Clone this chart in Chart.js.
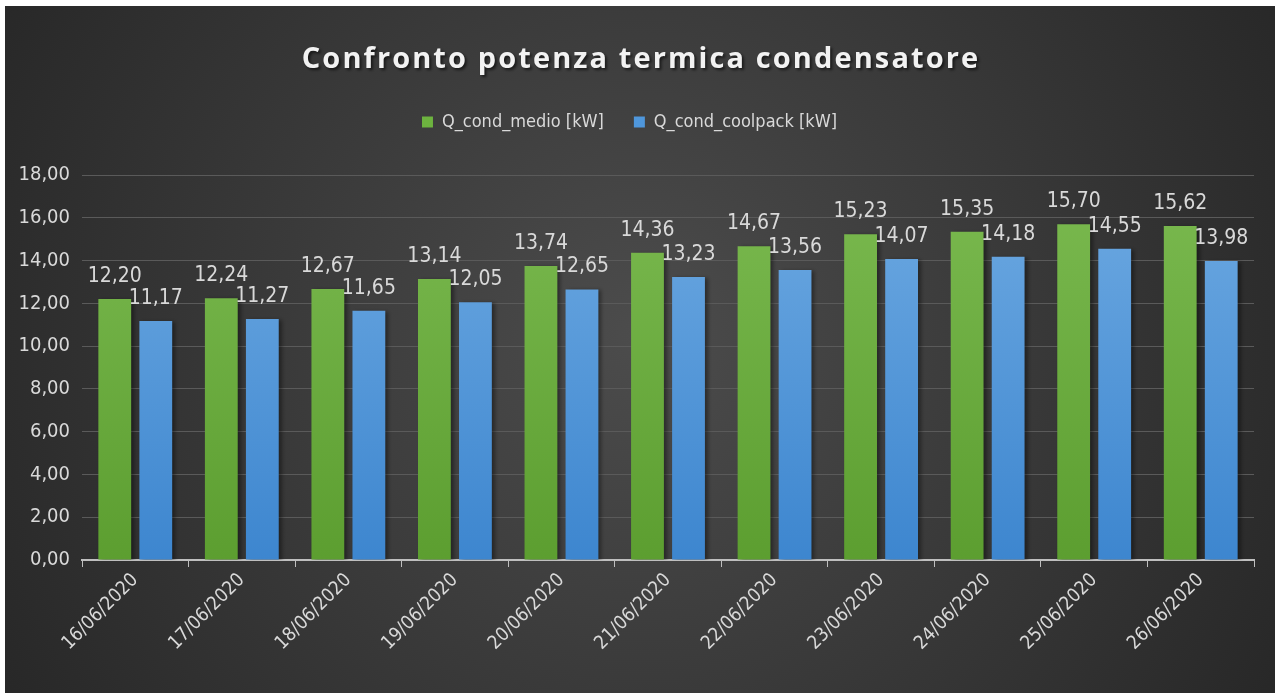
<!DOCTYPE html>
<html>
<head>
<meta charset="utf-8">
<script src="https://cdn.jsdelivr.net/npm/chart.js@4/dist/chart.umd.min.js"></script>
<style>
  html, body { margin: 0; padding: 0; background: #ffffff; }
  #wrap { position: absolute; left: 5px; top: 6px; width: 1270px; height: 687px; }
</style>
</head>
<body>
<div id="wrap"><canvas id="potenzaChart"></canvas></div>
<script>
const giorni = [
  '16/06/2020', '17/06/2020', '18/06/2020', '19/06/2020', '20/06/2020', '21/06/2020',
  '22/06/2020', '23/06/2020', '24/06/2020', '25/06/2020', '26/06/2020'
];
const qCondMedio = [12.20, 12.24, 12.67, 13.14, 13.74, 14.36, 14.67, 15.23, 15.35, 15.70, 15.62];
const qCondCoolpack = [11.17, 11.27, 11.65, 12.05, 12.65, 13.23, 13.56, 14.07, 14.18, 14.55, 13.98];
const yTicks = [0, 2, 4, 6, 8, 10, 12, 14, 16, 18];

const FONT = "'Liberation Sans Narrow', 'DejaVu Sans Condensed', sans-serif";
const TEXT_COLOR = '#d9d9d9';

const fmt = v => v.toFixed(2).replace('.', ',');

function barGradient(top, bottom) {
  return ctx => {
    const area = ctx.chart.chartArea;
    if (!area) return bottom;
    const g = ctx.chart.ctx.createLinearGradient(0, area.top, 0, area.bottom);
    g.addColorStop(0, top);
    g.addColorStop(1, bottom);
    return g;
  };
}

// dark radial background + title
const sfondo = {
  id: 'sfondo',
  beforeInit(chart) {
    // fixed legend block height so the plot starts lower
    const fit = chart.legend.fit;
    chart.legend.fit = function () {
      fit.call(this);
      this.height = 92;
    };
  },
  beforeDraw(chart) {
    const { ctx, width, height } = chart;
    ctx.save();
    const g = ctx.createRadialGradient(width * 0.5, height * 0.48, 0, width * 0.5, height * 0.48, width * 0.6);
    g.addColorStop(0, '#4c4c4c');
    g.addColorStop(1, '#262626');
    ctx.fillStyle = g;
    ctx.fillRect(0, 0, width, height);

    ctx.font = "bold 29px 'Open Sans', sans-serif";
    ctx.letterSpacing = '2.1px';
    ctx.fillStyle = '#f2f2f2';
    ctx.textAlign = 'center';
    ctx.textBaseline = 'middle';
    ctx.shadowColor = 'rgba(0,0,0,0.6)';
    ctx.shadowOffsetX = 2;
    ctx.shadowOffsetY = 2;
    ctx.shadowBlur = 3;
    ctx.fillText('Confronto potenza termica condensatore', width / 2 + 1, 54);
    ctx.restore();
  }
};

// bar shadow and value labels over every bar
const etichette = {
  id: 'etichette',
  beforeDatasetsDraw(chart) {
    const ctx = chart.ctx;
    ctx.save();
    ctx.shadowColor = 'rgba(0,0,0,0.4)';
    ctx.shadowOffsetX = 3;
    ctx.shadowOffsetY = 1;
    ctx.shadowBlur = 4;
  },
  afterDatasetsDraw(chart) {
    const ctx = chart.ctx;
    ctx.restore();
    ctx.save();
    ctx.font = '21px ' + FONT;
    ctx.fillStyle = TEXT_COLOR;
    ctx.textAlign = 'center';
    ctx.textBaseline = 'bottom';
    chart.data.datasets.forEach((ds, i) => {
      chart.getDatasetMeta(i).data.forEach((bar, j) => {
        ctx.fillText(fmt(ds.data[j]), bar.x, bar.y - 12);
      });
    });
    ctx.restore();
  }
};

new Chart(document.getElementById('potenzaChart'), {
  type: 'bar',
  data: {
    labels: giorni,
    datasets: [
      {
        label: 'Q_cond_medio [kW]',
        data: qCondMedio,
        backgroundColor: barGradient('#7bba50', '#5c9e30'),
        categoryPercentage: 0.77,
        barPercentage: 0.8
      },
      {
        label: 'Q_cond_coolpack [kW]',
        data: qCondCoolpack,
        backgroundColor: barGradient('#6eaae2', '#3d86cf'),
        categoryPercentage: 0.77,
        barPercentage: 0.8
      }
    ]
  },
  options: {
    responsive: true,
    maintainAspectRatio: false,
    animation: false,
    layout: { padding: { top: 77, right: 21, left: 0, bottom: 0 } },
    plugins: {
      legend: {
        position: 'top',
        labels: {
          color: TEXT_COLOR,
          font: { family: FONT, size: 18 },
          boxWidth: 11,
          boxHeight: 11,
          padding: 30,
          generateLabels(chart) {
            const cols = ['#6db33f', '#4f97dc'];
            return chart.data.datasets.map((ds, i) => ({
              text: ds.label,
              fillStyle: cols[i],
              strokeStyle: cols[i],
              lineWidth: 0,
              fontColor: TEXT_COLOR,
              datasetIndex: i
            }));
          }
        }
      },
      tooltip: { enabled: false }
    },
    scales: {
      x: {
        grid: {
          offset: true,
          drawOnChartArea: false,
          drawTicks: true,
          tickLength: 7,
          color: '#bfbfbf'
        },
        border: { color: '#bfbfbf', width: 2 },
        ticks: {
          color: TEXT_COLOR,
          font: { family: FONT, size: 19 },
          minRotation: 45,
          maxRotation: 45,
          padding: 2
        },
        afterFit(s) { s.height = 133; }
      },
      y: {
        min: 0,
        max: 18,
        afterBuildTicks(s) { s.ticks = yTicks.map(v => ({ value: v })); },
        grid: { color: '#5a5a5a', drawTicks: false, lineWidth: 1 },
        border: { display: false },
        ticks: {
          color: TEXT_COLOR,
          font: { family: FONT, size: 20 },
          padding: 12,
          callback: v => fmt(v)
        },
        afterFit(s) { s.width = 77; }
      }
    }
  },
  plugins: [sfondo, etichette]
});
</script>
</body>
</html>
